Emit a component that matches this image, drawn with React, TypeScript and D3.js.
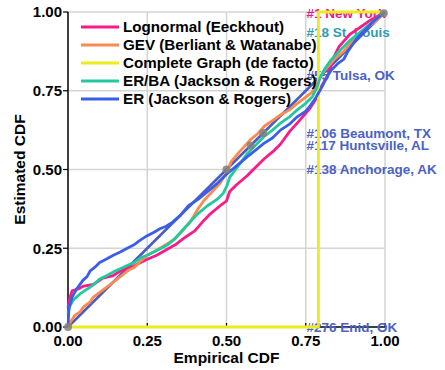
import * as d3 from 'd3';
import React from 'react';

// estimated CDF curves, as [empirical, estimated]
const lognormal: [number, number][] = [
  [0, 0.06], [0.005, 0.09], [0.013, 0.115], [0.03, 0.12], [0.05, 0.13], [0.08, 0.135],
  [0.11, 0.155], [0.14, 0.162], [0.17, 0.18], [0.2, 0.19], [0.22, 0.2], [0.25, 0.215],
  [0.28, 0.228], [0.31, 0.245], [0.34, 0.262], [0.37, 0.285], [0.4, 0.305], [0.43, 0.34],
  [0.45, 0.36], [0.48, 0.385], [0.5, 0.4], [0.51, 0.43], [0.53, 0.45], [0.565, 0.48],
  [0.6, 0.515], [0.62, 0.535], [0.65, 0.56], [0.67, 0.58], [0.7, 0.622], [0.73, 0.655],
  [0.76, 0.69], [0.78, 0.72], [0.8, 0.765], [0.82, 0.8], [0.84, 0.86], [0.855, 0.89],
  [0.89, 0.93], [0.92, 0.95], [0.955, 0.975], [1, 1],
];
const gev: [number, number][] = [
  [0, 0], [0.01, 0.02], [0.02, 0.035], [0.04, 0.05], [0.05, 0.065], [0.07, 0.08],
  [0.08, 0.095], [0.1, 0.11], [0.12, 0.125], [0.14, 0.14], [0.165, 0.16], [0.19, 0.18],
  [0.21, 0.19], [0.23, 0.21], [0.25, 0.228], [0.27, 0.238], [0.29, 0.25], [0.31, 0.262],
  [0.335, 0.278], [0.36, 0.305], [0.385, 0.333], [0.41, 0.375], [0.43, 0.403], [0.46, 0.435],
  [0.48, 0.457], [0.5, 0.49], [0.515, 0.525], [0.54, 0.555], [0.575, 0.594], [0.6, 0.615],
  [0.62, 0.638], [0.645, 0.655], [0.67, 0.673], [0.7, 0.69], [0.725, 0.711], [0.75, 0.73],
  [0.77, 0.745], [0.79, 0.784], [0.81, 0.815], [0.84, 0.85], [0.87, 0.875], [0.89, 0.9],
  [0.92, 0.93], [0.95, 0.955], [0.975, 0.975], [1, 1],
];
const complete: [number, number][] = [[0, 0], [0.79, 0], [0.79, 1], [1, 1]];
const erba: [number, number][] = [
  [0, 0.04], [0.005, 0.065], [0.017, 0.086], [0.038, 0.105], [0.06, 0.12], [0.075, 0.13],
  [0.1, 0.152], [0.12, 0.162], [0.143, 0.175], [0.165, 0.185], [0.19, 0.197], [0.21, 0.205],
  [0.23, 0.22], [0.25, 0.228], [0.27, 0.238], [0.29, 0.248], [0.313, 0.26], [0.335, 0.278],
  [0.355, 0.3], [0.386, 0.335], [0.41, 0.36], [0.44, 0.385], [0.47, 0.405], [0.49, 0.425],
  [0.502, 0.45], [0.51, 0.475], [0.54, 0.515], [0.565, 0.55], [0.59, 0.575], [0.618, 0.604],
  [0.645, 0.625], [0.67, 0.647], [0.7, 0.668], [0.724, 0.69], [0.75, 0.71], [0.771, 0.731],
  [0.785, 0.76], [0.795, 0.79], [0.81, 0.82], [0.83, 0.848], [0.86, 0.88], [0.89, 0.91],
  [0.92, 0.935], [0.956, 0.965], [0.98, 0.985], [1, 1],
];
const er: [number, number][] = [
  [0, 0], [0.003, 0.06], [0.013, 0.095], [0.028, 0.122], [0.047, 0.148], [0.06, 0.16],
  [0.07, 0.178], [0.085, 0.19], [0.1, 0.205], [0.12, 0.215], [0.143, 0.228], [0.165, 0.238],
  [0.187, 0.25], [0.21, 0.262], [0.228, 0.276], [0.25, 0.29], [0.27, 0.3], [0.29, 0.312],
  [0.31, 0.32], [0.33, 0.333], [0.355, 0.355], [0.38, 0.385], [0.41, 0.405], [0.44, 0.43],
  [0.47, 0.455], [0.5, 0.485], [0.53, 0.51], [0.565, 0.54], [0.59, 0.56], [0.618, 0.583],
  [0.645, 0.6], [0.67, 0.625], [0.7, 0.645], [0.724, 0.668], [0.75, 0.685], [0.76, 0.697],
  [0.78, 0.725], [0.8, 0.76], [0.815, 0.79], [0.83, 0.815], [0.85, 0.835], [0.87, 0.85],
  [0.883, 0.875], [0.9, 0.9], [0.914, 0.92], [0.94, 0.945], [0.965, 0.972], [1, 1],
];
const diagonal: [number, number][] = [[0, 0], [1, 1]];

const seriesNames = [
  'Lognormal (Eeckhout)',
  'GEV (Berliant & Watanabe)',
  'Complete Graph (de facto)',
  'ER/BA (Jackson & Rogers)',
  'ER (Jackson & Rogers)',
];
const seriesData = [lognormal, gev, complete, erba, er];
const seriesColors = ['#fa1a8a', '#fc8a4e', '#ecec1c', '#22c99c', '#3b5ee8'];

// labelled cities (rank out of 276)
const cityNames = ['New York', 'St. Louis', 'Tulsa, OK', 'Beaumont, TX', 'Huntsville, AL', 'Anchorage, AK', 'Enid, OK'];
const cityRanks = [1, 18, 55, 106, 117, 138, 276];
const cityColors = ['#e8198a', '#2f9bb5', '#4a62c8', '#4a62c8', '#4a62c8', '#4a62c8', '#4a62c8'];
const dotRanks = [1, 106, 117, 138, 276];
const nCities = 276;

const ticks = [0, 0.25, 0.5, 0.75, 1];

const App = () => {
  const width = 445;
  const height = 370;
  const margin = { top: 12, right: 60, bottom: 43, left: 68 };

  const x = d3.scaleLinear().domain([0, 1]).range([margin.left, width - margin.right]);
  const y = d3.scaleLinear().domain([0, 1]).range([height - margin.bottom, margin.top]);
  const line = d3.line<[number, number]>().x(d => x(d[0])).y(d => y(d[1]));
  const fmt = d3.format('.2f');
  const cdf = (r: number) => 1 - r / nCities;
  const font = "'Liberation Sans', Arial, sans-serif";

  return (
    <svg width={width} height={height} style={{ position: 'absolute', left: 0, top: 0 }}
      fontFamily={font} fontWeight="bold">
      {/* grid */}
      {ticks.filter(t => t > 0).map(t => (
        <g key={'g' + t}>
          <line x1={x(t)} x2={x(t)} y1={y(0)} y2={y(1)} stroke="#d4d4d4" strokeWidth={1.5} />
          <line x1={x(0)} x2={x(1)} y1={y(t)} y2={y(t)} stroke="#d4d4d4" strokeWidth={1.5} />
        </g>
      ))}

      {/* axes */}
      <line x1={x(0)} x2={x(0)} y1={y(0)} y2={y(1)} stroke="#000" strokeWidth={1.5} />
      <line x1={x(0)} x2={x(1)} y1={y(0)} y2={y(0)} stroke="#000" strokeWidth={1.5} />
      {ticks.map(t => (
        <g key={'t' + t}>
          <line x1={x(0) - 5} x2={x(0)} y1={y(t)} y2={y(t)} stroke="#000" strokeWidth={1.2} />
          <text x={x(0) - 6} y={y(t)} dy="0.35em" textAnchor="end" fontSize={15}>{fmt(t)}</text>
          <line x1={x(t)} x2={x(t)} y1={y(0)} y2={y(0) - 4} stroke="#000" strokeWidth={1.2} />
          <text x={x(t)} y={y(0) + 19} textAnchor="middle" fontSize={15}>{fmt(t)}</text>
        </g>
      ))}
      <text x={(x(0) + x(1)) / 2} y={363} textAnchor="middle" fontSize={15.5}>Empirical CDF</text>
      <text transform={`translate(25,${(y(0) + y(1)) / 2}) rotate(-90)`} textAnchor="middle" fontSize={15.5}>
        Estimated CDF
      </text>

      {/* city labels */}
      {cityNames.map((c, i) => (
        <text key={c} x={x(0.752)} y={y(cdf(cityRanks[i]))} dy="0.36em" fontSize={13.5}
          fill={cityColors[i]}>{`#${cityRanks[i]} ${c}`}</text>
      ))}

      {/* curves */}
      <path d={line(diagonal) || ''} fill="none" stroke="#4b5cc2" strokeWidth={2.6} />
      {seriesData.map((s, i) => (
        <path key={seriesNames[i]} d={line(s) || ''} fill="none" stroke={seriesColors[i]}
          strokeWidth={2.8} strokeLinejoin="round" />
      ))}

      {/* city markers on the diagonal */}
      {dotRanks.map(r => (
        <circle key={'d' + r} cx={x(cdf(r))} cy={y(cdf(r))} r={4} fill="#808080" fillOpacity={0.85} />
      ))}

      {/* legend */}
      {seriesNames.map((n, i) => (
        <g key={'l' + n} transform={`translate(81,${27 + i * 18})`}>
          <line x1={0} x2={38} y1={0} y2={0} stroke={seriesColors[i]} strokeWidth={3} />
          <text x={42} y={0} dy="0.36em" fontSize={15.2}>{n}</text>
        </g>
      ))}
    </svg>
  );
};

export default App;
